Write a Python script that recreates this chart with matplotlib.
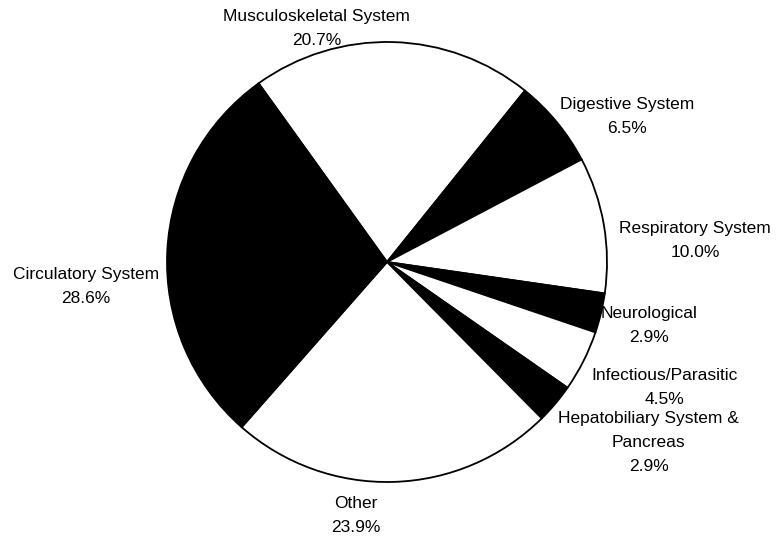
import matplotlib.pyplot as plt

systems = [
    "Musculoskeletal System",
    "Digestive System",
    "Respiratory System",
    "Neurological",
    "Infectious/Parasitic",
    "Hepatobiliary System &\nPancreas",
    "Other",
    "Circulatory System",
]
shares = [20.7, 6.5, 10.0, 2.9, 4.5, 2.9, 23.9, 28.6]
fills = ["white", "black", "white", "black", "white", "black", "white", "black"]

# label block centres, in units of the pie radius
label_xy = [
    (-0.32, 1.06),
    (1.09, 0.66),
    (1.40, 0.10),
    (1.19, -0.29),
    (1.26, -0.57),
    (1.19, -0.82),
    (-0.14, -1.15),
    (-1.37, -0.11),
]

plt.rcParams["font.family"] = ["Liberation Sans", "DejaVu Sans"]

fig = plt.figure(figsize=(7.78, 5.44), dpi=100)
ax = fig.add_axes([0, 0, 1, 1])

ax.pie(
    shares,
    colors=fills,
    startangle=125.7,
    counterclock=False,
    wedgeprops={"edgecolor": "black", "linewidth": 1.3},
)

for name, share, (x, y) in zip(systems, shares, label_xy):
    ax.text(
        x, y, f"{name}\n{share:.1f}%",
        ha="center", va="center", fontsize=12.5, linespacing=1.75,
    )

ax.set_aspect("auto")
ax.set_xlim(-387 / 220, (778 - 387) / 220)
ax.set_ylim(-(544 - 262) / 220, 262 / 220)
ax.axis("off")

fig.savefig("out.png", dpi=100, facecolor="white")
